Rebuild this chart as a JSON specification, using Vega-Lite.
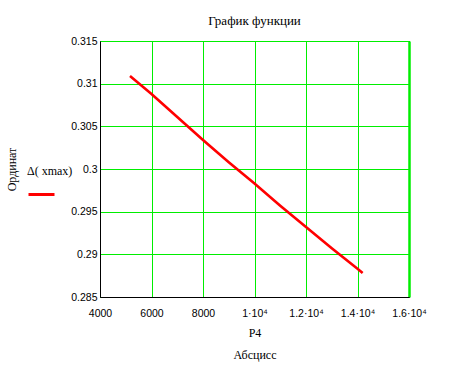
{
  "$schema": "https://vega.github.io/schema/vega-lite/v6.json",
  "width": 309,
  "height": 256,
  "autosize": "none",
  "padding": {"left": 100, "top": 41, "right": 45, "bottom": 90},
  "background": "white",
  "title": {
    "text": "График функции",
    "font": "Liberation Serif",
    "fontSize": 13,
    "fontWeight": "normal",
    "color": "black",
    "anchor": "middle",
    "offset": 8
  },
  "data": {
    "values": [
      {"P4": 5165, "v": 0.3109, "s": "Δ(xmax)"},
      {"P4": 6000, "v": 0.3088, "s": "Δ(xmax)"},
      {"P4": 7000, "v": 0.3061, "s": "Δ(xmax)"},
      {"P4": 8000, "v": 0.3034, "s": "Δ(xmax)"},
      {"P4": 9000, "v": 0.3008, "s": "Δ(xmax)"},
      {"P4": 10000, "v": 0.2983, "s": "Δ(xmax)"},
      {"P4": 11000, "v": 0.2957, "s": "Δ(xmax)"},
      {"P4": 12000, "v": 0.2932, "s": "Δ(xmax)"},
      {"P4": 13000, "v": 0.2907, "s": "Δ(xmax)"},
      {"P4": 14000, "v": 0.2883, "s": "Δ(xmax)"},
      {"P4": 14200, "v": 0.2878, "s": "Δ(xmax)"}
    ]
  },
  "mark": {"type": "line", "strokeWidth": 2.6, "clip": true},
  "encoding": {
    "x": {
      "field": "P4",
      "type": "quantitative",
      "scale": {"domain": [4000, 16000], "nice": false, "zero": false},
      "axis": {
        "values": [4000, 6000, 8000, 10000, 12000, 14000, 16000],
        "labelExpr": "datum.value < 10000 ? format(datum.value, 'd') : format(datum.value / 10000, '~g') + '·10⁴'",
        "labelFont": "Liberation Sans",
        "labelFontSize": 10.5,
        "labelColor": "black",
        "labelPadding": 11,
        "labelFlush": false,
        "labelOverlap": false,
        "ticks": false,
        "domainColor": "black",
        "domainWidth": 1,
        "gridColor": "#00ee00",
        "gridOpacity": 1,
        "gridWidth": {"condition": {"test": "datum.value == 16000", "value": 2.5}, "value": 1},
        "title": ["P4", "Абсцисс"],
        "titleFont": "Liberation Serif",
        "titleFontSize": 12,
        "titleFontWeight": "normal",
        "titleColor": "black",
        "titlePadding": 9,
        "titleLineHeight": 22
      }
    },
    "y": {
      "field": "v",
      "type": "quantitative",
      "scale": {"domain": [0.285, 0.315], "nice": false, "zero": false},
      "axis": {
        "values": [0.285, 0.29, 0.295, 0.3, 0.305, 0.31, 0.315],
        "labelExpr": "format(datum.value, '.3~f')",
        "labelFont": "Liberation Sans",
        "labelFontSize": 10.5,
        "labelColor": "black",
        "labelPadding": 3,
        "labelFlush": false,
        "labelOverlap": false,
        "ticks": false,
        "domainColor": "black",
        "domainWidth": 1,
        "gridColor": "#00ee00",
        "gridOpacity": 1,
        "gridWidth": 1,
        "title": "Ординат",
        "titleFont": "Liberation Serif",
        "titleFontSize": 12,
        "titleFontWeight": "normal",
        "titleColor": "black",
        "titlePadding": 52
      }
    },
    "color": {
      "field": "s",
      "type": "nominal",
      "scale": {"range": ["red"]},
      "legend": {
        "orient": "none",
        "legendX": -73,
        "legendY": 125,
        "title": "Δ( xmax)",
        "titleFont": "Liberation Serif",
        "titleFontSize": 12,
        "titleFontWeight": "normal",
        "titleColor": "black",
        "titlePadding": 2,
        "labelExpr": "''",
        "symbolType": "stroke",
        "symbolSize": 676,
        "symbolStrokeWidth": 3,
        "symbolOffset": 0,
        "padding": 0
      }
    }
  },
  "config": {
    "view": {"stroke": "black", "strokeWidth": 1}
  }
}
